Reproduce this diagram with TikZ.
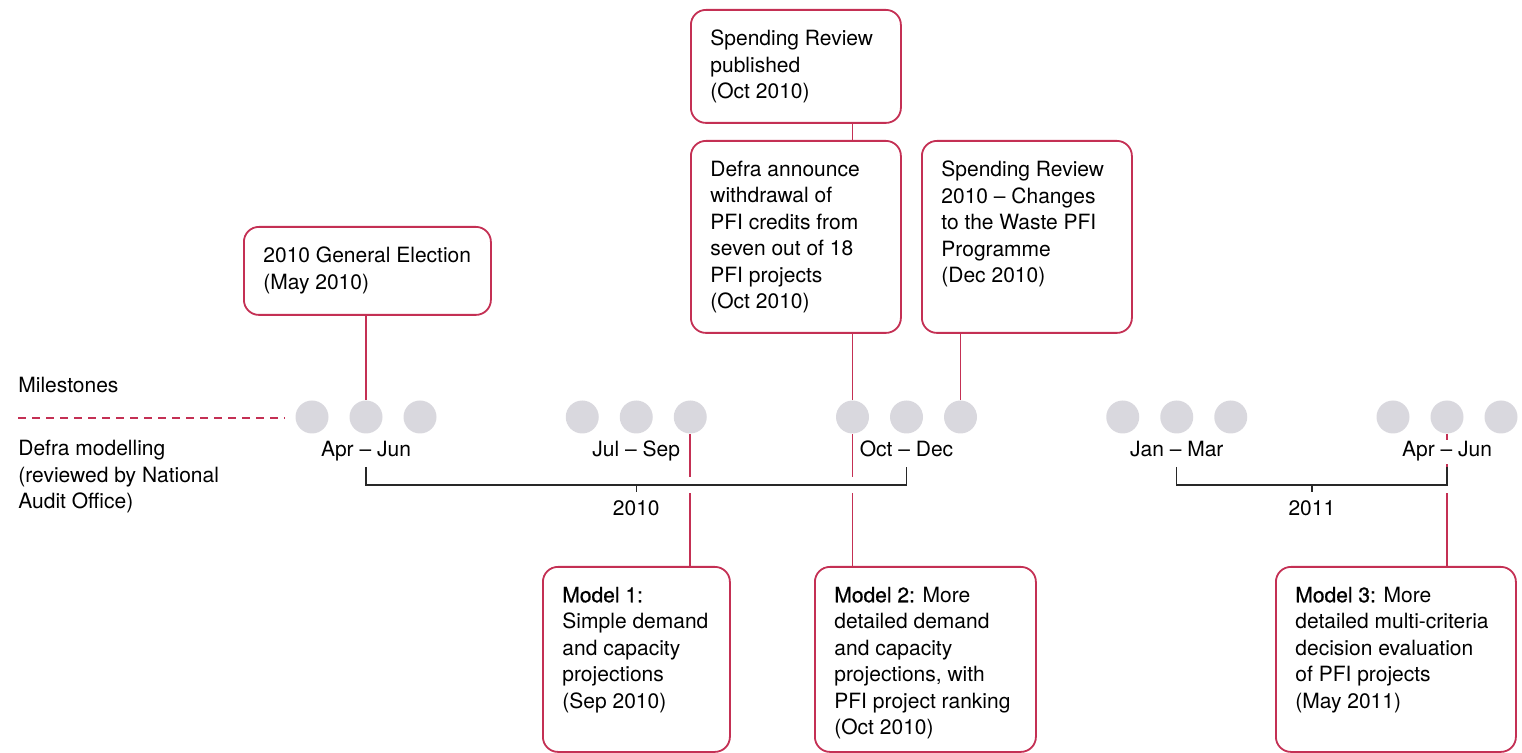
\documentclass[tikz,border=0pt]{standalone}
\usepackage{fontspec}
\setmainfont{TeX Gyre Heros}
\newfontfamily\modelfont[FakeBold=0.6]{TeX Gyre Heros}
\usepackage{tikz}
\usetikzlibrary{calc}
\definecolor{nred}{RGB}{196,48,84}
\definecolor{dotgrey}{RGB}{217,216,222}
\definecolor{bargrey}{RGB}{40,40,40}
\newcommand{\ntext}{\fontsize{10.5}{13.25}\selectfont}
\newcommand{\mlabel}[1]{{\modelfont #1}}
\tikzset{
  evframe/.style={draw=nred, line width=0.9pt, rounded corners=7.5pt, fill=white, anchor=north west, inner sep=0pt},
  evtext/.style={anchor=north west, align=left, inner xsep=10pt, inner ysep=10.3pt, font=\ntext},
  qdot/.style={circle, fill=dotgrey, minimum size=16.5pt, inner sep=0pt},
  link/.style={draw=nred, line width=0.8pt},
  qlab/.style={anchor=base, font=\ntext, fill=white, inner sep=1pt},
  yearbar/.style={draw=bargrey, line width=0.7pt, preaction={draw=white, line width=8pt}},
}
\newcommand{\evbox}[5]{\node[evframe, minimum width=#3, minimum height=#4] (#1) at (#2) {};
\node[evtext] (#1-txt) at (#1.north west) {#5};}

\begin{document}
\begin{tikzpicture}[x=0.5pt, y=-0.5pt]
\useasboundingbox (0,0) rectangle (1522,753);
\node[anchor=base west, inner sep=0pt, font=\ntext] (miles) at (18,393) {Milestones};
\draw[nred, line width=0.7pt, dash pattern=on 4pt off 3pt] (18,418) -- (285,418);
\node[anchor=north west, inner sep=0pt, align=left, font=\ntext] (model) at (18,440) {Defra modelling\\(reviewed by National\\Audit Office)};
\foreach \g in {0,...,4}
  \foreach \k in {0,1,2}
    \node[qdot] (d\g\k) at ({312+270.25*\g+54*\k},417) {};
\evbox{elect}{243,226}{123.5pt}{44pt}{2010 General Election\\(May 2010)}
\evbox{spend}{690,9}{105pt}{56.5pt}{Spending Review\\published\\(Oct 2010)}
\evbox{defra}{690,140}{105pt}{96pt}{Defra announce\\withdrawal of\\PFI credits from\\seven out of 18\\PFI projects\\(Oct 2010)}
\evbox{waste}{921,140}{105pt}{96pt}{Spending Review\\2010 -- Changes\\to the Waste PFI\\Programme\\(Dec 2010)}
\evbox{mone}{542,566}{93.5pt}{92.5pt}{\mlabel{Model 1:}\\Simple demand\\and capacity\\projections\\(Sep 2010)}
\evbox{mtwo}{814,566}{110.5pt}{92.5pt}{\mlabel{Model 2:} More\\detailed demand\\and capacity\\projections, with\\PFI project ranking\\(Oct 2010)}
\evbox{mthree}{1275,566}{120pt}{92.5pt}{\mlabel{Model 3:} More\\detailed multi-criteria\\decision evaluation\\of PFI projects\\(May 2011)}
\draw[link] (d01 |- elect.south) -- (d01.north);
\draw[link] (d20 |- spend.south) -- (d20 |- defra.north);
\draw[link] (d20 |- defra.south) -- (d20.north);
\draw[link] (d22 |- waste.south) -- (d22.north);
\draw[link] (d12.south) -- (d12 |- mone.north);
\draw[link] (d20.south) -- (d20 |- mtwo.north);
\draw[link] (d41.south) -- (d41 |- mthree.north);
\draw[yearbar] (d01 |- 0,467) -- (d01 |- 0,485) -- (d21 |- 0,485) -- (d21 |- 0,467);
\draw[yearbar] (d31 |- 0,467) -- (d31 |- 0,485) -- (d41 |- 0,485) -- (d41 |- 0,467);
\coordinate (y10) at ($(d01 |- 0,485)!0.5!(d21 |- 0,485)$);
\coordinate (y11) at ($(d31 |- 0,485)!0.5!(d41 |- 0,485)$);
\draw[bargrey, line width=0.7pt] (y10) -- ++(0,7);
\draw[bargrey, line width=0.7pt] (y11) -- ++(0,7);
\node[anchor=base, font=\ntext] (yr10) at (y10 |- 0,516) {2010};
\node[anchor=base, font=\ntext] (yr11) at (y11 |- 0,516) {2011};
\foreach \g/\lab in {0/Apr -- Jun, 1/Jul -- Sep, 2/Oct -- Dec, 3/Jan -- Mar, 4/Apr -- Jun}
  \node[qlab] (q\g) at (d\g1 |- 0,457) {\lab};
\end{tikzpicture}
\end{document}
